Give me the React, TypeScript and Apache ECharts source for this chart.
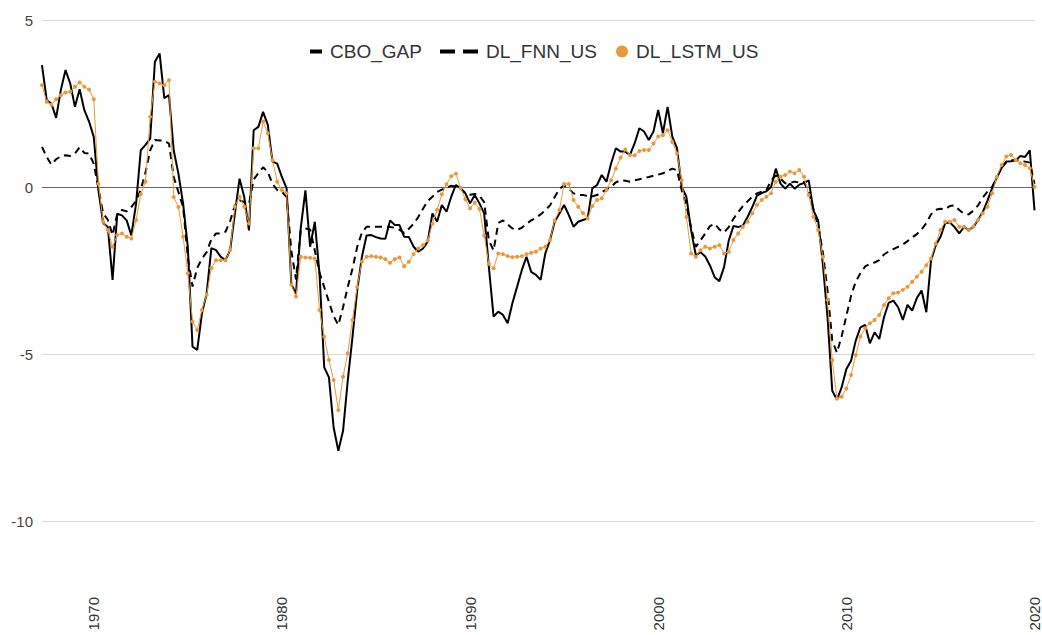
import React, { useEffect, useRef } from "react";
import * as echarts from "echarts";

const START_YEAR = 1967;
const START_QUARTER = 2;

const CBO_GAP = [
  3.65, 2.6, 2.5, 2.07, 2.9, 3.5, 3.1, 2.4, 2.93, 2.3,
  1.96, 1.5, -0.1, -1.08, -1.2, -2.78, -0.8, -0.85, -1.0, -1.45,
  -0.5, 1.1, 1.26, 1.45, 3.75, 4.0, 2.66, 2.75, 1.1, 0.4,
  -0.5, -1.8, -4.78, -4.88, -3.78, -3.2, -1.83, -1.89, -2.09, -2.19,
  -1.89, -0.8, 0.25, -0.3, -1.3, 1.7, 1.8, 2.25, 1.86, 0.76,
  0.7, 0.3, -0.04, -2.9, -3.2, -1.24, -0.1, -1.79, -1.04, -2.6,
  -5.4, -5.7, -7.2, -7.9, -7.3, -5.8, -4.5, -3.1, -2.1, -1.45,
  -1.44, -1.5, -1.54, -1.55, -1.0, -1.14, -1.14, -1.49, -1.5, -1.79,
  -1.94, -1.84, -1.64, -0.79, -1.04, -0.54, -0.74, -0.29, 0.06, -0.04,
  -0.19, -0.49, -0.24, -0.49, -0.79, -2.39, -3.88, -3.73, -3.83, -4.08,
  -3.48, -2.99, -2.49, -2.09, -2.54, -2.63, -2.78, -1.99, -1.59, -1.04,
  -0.79, -0.54, -0.84, -1.19, -1.04, -0.99, -0.94, -0.04, 0.06, 0.36,
  0.16, 0.71, 1.16, 1.06, 1.06, 0.96, 1.31, 1.76, 1.66, 1.41,
  1.66, 2.31, 1.61, 2.4, 1.51, 1.16, 0.0, -0.3, -1.3, -2.05,
  -1.95, -2.08, -2.35, -2.7, -2.82, -2.4, -1.6, -1.17, -1.2, -1.15,
  -0.9, -0.6, -0.26, -0.18, -0.13, 0.0, 0.55, 0.1, -0.05, 0.1,
  -0.05, 0.07, 0.12, 0.2, -0.7, -1.0, -2.3, -3.9, -6.1, -6.37,
  -6.0, -5.45, -5.2, -4.6, -4.2, -4.13, -4.68, -4.35, -4.55, -3.9,
  -3.47, -3.4, -3.6, -3.98, -3.53, -3.7, -3.32, -3.1, -3.75, -2.2,
  -1.75, -1.5, -1.08, -1.06, -1.2, -1.39, -1.2, -1.28, -1.2, -0.99,
  -0.75, -0.41, -0.03, 0.28, 0.57, 0.76, 0.77, 0.8, 0.93, 0.9,
  1.1, -0.7,
];

const DL_FNN_US = [
  1.2, 0.9, 0.67, 0.83, 0.92, 0.95, 0.93, 1.0, 1.19, 1.02,
  1.0, 0.7, -0.05, -0.79, -0.98, -1.44, -0.8, -0.69, -0.73, -0.6,
  -0.41, -0.08, 0.43, 1.1, 1.41, 1.39, 1.39, 1.3, 0.3, -0.15,
  -0.6, -2.1, -2.98, -2.42, -2.15, -1.95, -1.57, -1.39, -1.39, -1.34,
  -1.02, -0.55, -0.4, -0.45, -0.52, 0.22, 0.42, 0.59, 0.45, 0.09,
  -0.09, -0.14, -0.3, -1.9, -2.77, -1.29, -1.24, -1.27, -1.9, -2.57,
  -3.0, -3.44, -3.87, -4.13, -3.6, -3.0, -2.45, -1.8, -1.37, -1.19,
  -1.19, -1.19, -1.19, -1.19, -1.2, -1.22, -1.28, -1.38, -1.25, -1.1,
  -0.9, -0.65, -0.42, -0.29, -0.15, -0.08, -0.03, 0.04, 0.01, -0.05,
  -0.18, -0.23, -0.21, -0.26, -0.45, -1.6, -1.9, -1.08, -1.0, -1.12,
  -1.24, -1.29, -1.22, -1.1, -1.0, -0.92, -0.82, -0.7, -0.55, -0.3,
  -0.06, 0.05, -0.05, -0.19, -0.24, -0.24, -0.27, -0.28, -0.24, -0.16,
  -0.07, 0.0, 0.14, 0.2, 0.19, 0.16, 0.2, 0.23, 0.27, 0.3,
  0.34, 0.37, 0.41, 0.48, 0.55, 0.5, -0.1, -0.55, -1.22, -1.79,
  -1.6, -1.39, -1.17, -1.1, -1.27, -1.36, -1.2, -0.95, -0.75, -0.57,
  -0.43, -0.29, -0.19, -0.14, -0.1, 0.2, 0.34, 0.25, 0.11, 0.12,
  0.16, 0.14, 0.15, -0.15, -0.65, -1.16, -1.95, -3.1, -4.6, -4.96,
  -4.47, -3.86, -3.26, -2.83, -2.58, -2.38, -2.3, -2.26, -2.19, -2.02,
  -1.93, -1.86, -1.79, -1.72, -1.62, -1.51, -1.41, -1.27, -1.08, -0.82,
  -0.68, -0.65, -0.67, -0.57, -0.55, -0.69, -0.8, -0.82, -0.71, -0.55,
  -0.32, -0.14, 0.0, 0.29, 0.58, 0.74, 0.8, 0.81, 0.78, 0.76,
  0.73, 0.1,
];

const DL_LSTM_US = [
  3.05, 2.55, 2.46, 2.63, 2.75, 2.83, 2.85, 3.0, 3.13, 3.0,
  2.92, 2.63, 0.1, -1.04, -1.29, -1.79, -1.44, -1.39, -1.49, -1.54,
  -0.99, -0.22, 0.16, 2.1, 3.15, 3.1, 3.05, 3.2, -0.3, -0.6,
  -1.49, -2.58, -4.03, -4.28, -3.68, -3.23, -2.43, -2.19, -2.19, -2.19,
  -1.89, -0.59, -0.29, -0.59, -1.09, 1.16, 1.16, 1.96, 1.61, 0.81,
  0.16, -0.09, -0.19, -2.93, -3.28, -2.09, -2.11, -2.12, -2.14, -3.68,
  -4.48, -5.18, -5.78, -6.68, -5.68, -4.98, -3.98, -2.99, -2.24, -2.09,
  -2.07, -2.09, -2.11, -2.16, -2.27, -2.16, -2.11, -2.37, -2.24, -2.01,
  -1.84, -1.74, -1.6, -1.1, -0.68, -0.22, 0.08, 0.32, 0.4, -0.02,
  -0.37, -0.64, -0.47, -0.65, -1.45, -2.3, -2.43, -1.99, -2.01, -2.07,
  -2.1, -2.09, -2.07, -2.01, -1.97, -1.94, -1.84, -1.79, -1.59, -1.0,
  -0.69, 0.09, 0.09, -0.39, -0.59, -0.78, -0.94, -0.57, -0.39, -0.34,
  -0.09, 0.2, 0.55, 0.88, 1.12, 0.95, 0.95, 1.08, 1.11, 1.11,
  1.3, 1.51, 1.55, 1.7, 1.35, 1.0, 0.2, -0.9, -1.99, -2.09,
  -1.89, -1.79, -1.84, -1.79, -1.74, -1.99, -1.94, -1.59, -1.39, -1.19,
  -1.04, -0.79, -0.54, -0.39, -0.29, -0.19, 0.16, 0.31, 0.36, 0.46,
  0.41, 0.51, 0.31, -0.24, -0.89, -1.29, -2.09, -3.38, -5.18, -6.33,
  -6.28, -6.03, -5.63, -5.03, -4.48, -4.23, -4.08, -3.98, -3.83, -3.53,
  -3.33, -3.18, -3.16, -3.08, -2.99, -2.84, -2.69, -2.54, -2.34, -2.14,
  -1.69, -1.29, -1.04, -1.04, -0.99, -1.19, -1.19, -1.29, -1.19, -0.99,
  -0.79, -0.59, -0.19, 0.31, 0.66, 0.91, 0.96, 0.81, 0.71, 0.66,
  0.56, 0.0,
];

const Y_MIN = -10;
const Y_MAX = 5;
const Y_INTERVAL = 5;
const LABEL_EVERY_YEARS = 10;

function quarterCategories(n: number): string[] {
  const out: string[] = [];
  let y = START_YEAR;
  let q = START_QUARTER;
  for (let i = 0; i < n; i++) {
    out.push(`${y}Q${q}`);
    q++;
    if (q > 4) {
      q = 1;
      y++;
    }
  }
  return out;
}

const CATEGORIES = quarterCategories(CBO_GAP.length);

const FONT = "'Liberation Sans', Arial, Helvetica, sans-serif";
const ORANGE = "#e8993d";

export default function App() {
  const ref = useRef<HTMLDivElement>(null);

  useEffect(() => {
    if (!ref.current) return;
    const chart = echarts.init(ref.current, null, { renderer: "svg" });
    const legendText = {
      fontSize: 19,
      color: "#333",
      fontFamily: FONT,
      padding: [0, 0, 0, 3],
    };
    chart.setOption({
      animation: false,
      backgroundColor: "#fff",
      textStyle: { fontFamily: FONT },
      grid: { left: 42, right: 0, top: 20, bottom: 114, containLabel: false },
      legend: [
        {
          data: ["CBO_GAP"],
          left: 310,
          top: 42,
          padding: 0,
          icon: "rect",
          itemWidth: 12,
          itemHeight: 4,
          textStyle: legendText,
          selectedMode: false,
        },
        {
          data: ["DL_FNN_US"],
          left: 440,
          top: 42,
          padding: 0,
          icon: "path://M0,0H15V4H0Z M23,0H38V4H23Z",
          itemWidth: 38,
          itemHeight: 4,
          textStyle: legendText,
          selectedMode: false,
        },
        {
          data: ["DL_LSTM_US"],
          left: 616,
          top: 42,
          padding: 0,
          icon: "circle",
          itemWidth: 12,
          itemHeight: 12,
          textStyle: legendText,
          selectedMode: false,
        },
      ],
      xAxis: {
        type: "category",
        data: CATEGORIES,
        boundaryGap: false,
        axisLine: { show: false, onZero: false },
        axisTick: { show: false },
        splitLine: { show: false },
        axisLabel: {
          rotate: 90,
          margin: 76,
          fontSize: 15,
          color: "#333",
          fontFamily: FONT,
          interval: (index: number, value: string) => {
            const y = parseInt(value.slice(0, 4), 10);
            return value.endsWith("Q1") && y % LABEL_EVERY_YEARS === 0;
          },
          formatter: (value: string) => value.slice(0, 4),
        },
      },
      yAxis: {
        type: "value",
        min: Y_MIN,
        max: Y_MAX,
        interval: Y_INTERVAL,
        axisLine: { show: false },
        axisTick: { show: false },
        axisLabel: {
          fontSize: 15,
          color: "#444",
          margin: 9,
          fontFamily: FONT,
        },
        splitLine: { lineStyle: { color: "#d9d9d9", width: 1 } },
      },
      series: [
        {
          name: "CBO_GAP",
          type: "line",
          data: CBO_GAP,
          symbol: "none",
          color: "#000",
          lineStyle: { color: "#000", width: 2 },
          z: 3,
          markLine: {
            silent: true,
            symbol: ["none", "none"],
            label: { show: false },
            lineStyle: { color: "#666", width: 1, type: "solid" },
            data: [{ yAxis: 0 }],
            z: 1,
          },
        },
        {
          name: "DL_FNN_US",
          type: "line",
          data: DL_FNN_US,
          symbol: "none",
          color: "#000",
          lineStyle: { color: "#000", width: 2, type: [7, 5] },
          z: 3,
        },
        {
          name: "DL_LSTM_US",
          type: "line",
          data: DL_LSTM_US,
          symbol: "circle",
          symbolSize: 4,
          showAllSymbol: true,
          color: ORANGE,
          itemStyle: { color: ORANGE },
          lineStyle: { color: ORANGE, width: 1 },
          z: 4,
        },
      ],
    });
    return () => chart.dispose();
  }, []);

  return (
    <div
      ref={ref}
      style={{
        position: "fixed",
        left: 0,
        top: 0,
        width: 1042,
        height: 635,
        background: "#fff",
      }}
    />
  );
}
